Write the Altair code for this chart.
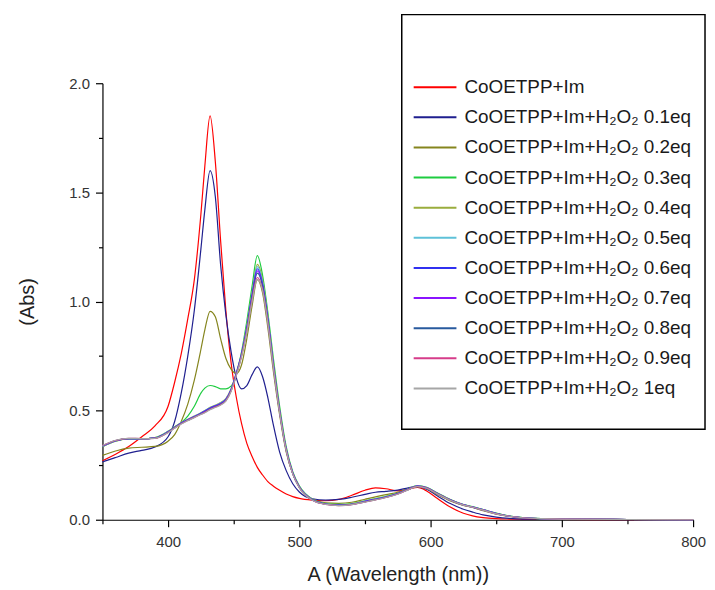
import altair as alt
import pandas as pd

# wavelength grid (nm)
wavelength = [350, 360, 370, 380, 390, 400, 405, 410, 415, 420, 425, 428, 432, 436, 440,
              444, 448, 452, 456, 460, 464, 468, 472, 476, 480, 485, 490, 495, 500, 510,
              520, 530, 540, 550, 558, 566, 575, 583, 590, 597, 605, 615, 625, 632, 640,
              650, 660, 670, 685, 700, 750, 800]

series_names = [
    "CoOETPP+Im",
    "CoOETPP+Im+H₂O₂ 0.1eq",
    "CoOETPP+Im+H₂O₂ 0.2eq",
    "CoOETPP+Im+H₂O₂ 0.3eq",
    "CoOETPP+Im+H₂O₂ 0.4eq",
    "CoOETPP+Im+H₂O₂ 0.5eq",
    "CoOETPP+Im+H₂O₂ 0.6eq",
    "CoOETPP+Im+H₂O₂ 0.7eq",
    "CoOETPP+Im+H₂O₂ 0.8eq",
    "CoOETPP+Im+H₂O₂ 0.9eq",
    "CoOETPP+Im+H₂O₂ 1eq",
]

colors = ["#FF0000", "#1F1F8F", "#85851E", "#1ECC40", "#9AAD3C", "#5EC1D8",
          "#3030F0", "#8A14FF", "#285A9E", "#D63C8A", "#A6A6A6"]

abs_im = [0.27, 0.30, 0.335, 0.38, 0.43, 0.52, 0.63, 0.76, 0.92, 1.10, 1.40, 1.62, 1.85, 1.64, 1.28,
          0.96, 0.72, 0.56, 0.44, 0.35, 0.29, 0.24, 0.205, 0.175, 0.155, 0.135, 0.118, 0.106, 0.098, 0.09,
          0.087, 0.093, 0.112, 0.135, 0.146, 0.142, 0.132, 0.14, 0.148, 0.132, 0.098, 0.058, 0.03, 0.018, 0.01,
          0.005, 0.003, 0.002, 0.001, 0.001, 0.0, 0.0]

abs_01 = [0.265, 0.285, 0.305, 0.318, 0.333, 0.38, 0.45, 0.58, 0.75, 0.96, 1.24, 1.42, 1.60, 1.48, 1.17,
          0.94, 0.77, 0.65, 0.60, 0.615, 0.665, 0.70, 0.655, 0.56, 0.44, 0.31, 0.225, 0.165, 0.127, 0.096,
          0.09, 0.093, 0.103, 0.116, 0.126, 0.13, 0.136, 0.146, 0.152, 0.14, 0.11, 0.074, 0.048, 0.035, 0.022,
          0.012, 0.006, 0.003, 0.002, 0.001, 0.0, 0.0]

abs_02 = [0.295, 0.315, 0.328, 0.332, 0.336, 0.36, 0.39, 0.45, 0.53, 0.64, 0.78, 0.87, 0.955, 0.93, 0.83,
          0.74, 0.69, 0.67, 0.71, 0.83, 0.98, 1.10, 1.04, 0.88, 0.69, 0.48, 0.31, 0.21, 0.15, 0.094,
          0.077, 0.075, 0.08, 0.094, 0.105, 0.115, 0.126, 0.142, 0.153, 0.143, 0.116, 0.086, 0.066, 0.056, 0.041,
          0.026, 0.015, 0.008, 0.004, 0.002, 0.001, 0.0]

abs_03 = [0.335, 0.36, 0.37, 0.37, 0.376, 0.405, 0.425, 0.445, 0.475, 0.52, 0.58, 0.603, 0.615, 0.61, 0.60,
          0.60, 0.612, 0.665, 0.77, 0.91, 1.07, 1.21, 1.12, 0.95, 0.75, 0.52, 0.335, 0.22, 0.155, 0.094,
          0.075, 0.07, 0.074, 0.087, 0.097, 0.107, 0.122, 0.142, 0.156, 0.148, 0.123, 0.093, 0.07, 0.06, 0.047,
          0.03, 0.017, 0.01, 0.005, 0.003, 0.001, 0.0]

abs_04 = [0.335, 0.36, 0.37, 0.37, 0.376, 0.405, 0.425, 0.445, 0.46, 0.475, 0.49, 0.50, 0.515, 0.525, 0.537,
          0.555, 0.60, 0.675, 0.765, 0.89, 1.04, 1.17, 1.10, 0.93, 0.73, 0.505, 0.325, 0.215, 0.152, 0.093,
          0.074, 0.069, 0.073, 0.086, 0.096, 0.106, 0.121, 0.141, 0.155, 0.147, 0.122, 0.092, 0.069, 0.059, 0.046,
          0.029, 0.017, 0.01, 0.005, 0.003, 0.001, 0.0]

abs_05 = [0.337, 0.361, 0.371, 0.37, 0.375, 0.404, 0.424, 0.444, 0.459, 0.474, 0.489, 0.499, 0.513, 0.523, 0.535,
          0.553, 0.598, 0.672, 0.762, 0.885, 1.035, 1.16, 1.09, 0.925, 0.725, 0.50, 0.323, 0.214, 0.151, 0.092,
          0.073, 0.068, 0.072, 0.085, 0.095, 0.105, 0.12, 0.14, 0.155, 0.147, 0.121, 0.091, 0.069, 0.059, 0.046,
          0.029, 0.017, 0.01, 0.005, 0.003, 0.001, 0.0]

abs_06 = [0.338, 0.362, 0.372, 0.371, 0.375, 0.403, 0.423, 0.443, 0.458, 0.473, 0.488, 0.498, 0.512, 0.522, 0.533,
          0.551, 0.596, 0.67, 0.76, 0.88, 1.03, 1.15, 1.08, 0.92, 0.72, 0.498, 0.322, 0.213, 0.15, 0.091,
          0.072, 0.067, 0.071, 0.084, 0.094, 0.104, 0.12, 0.14, 0.154, 0.146, 0.121, 0.091, 0.068, 0.058, 0.045,
          0.028, 0.016, 0.009, 0.005, 0.003, 0.001, 0.0]

abs_07 = [0.338, 0.362, 0.372, 0.371, 0.374, 0.402, 0.422, 0.442, 0.457, 0.472, 0.486, 0.496, 0.51, 0.52, 0.531,
          0.549, 0.594, 0.668, 0.757, 0.875, 1.025, 1.14, 1.075, 0.915, 0.717, 0.496, 0.32, 0.212, 0.149, 0.09,
          0.071, 0.066, 0.07, 0.083, 0.093, 0.104, 0.119, 0.139, 0.154, 0.146, 0.12, 0.09, 0.068, 0.058, 0.045,
          0.028, 0.016, 0.009, 0.005, 0.003, 0.001, 0.0]

abs_08 = [0.339, 0.363, 0.372, 0.371, 0.374, 0.401, 0.421, 0.441, 0.456, 0.47, 0.485, 0.494, 0.508, 0.518, 0.529,
          0.547, 0.592, 0.665, 0.754, 0.87, 1.02, 1.13, 1.07, 0.91, 0.714, 0.494, 0.319, 0.211, 0.148, 0.09,
          0.071, 0.066, 0.07, 0.082, 0.092, 0.103, 0.118, 0.138, 0.153, 0.145, 0.12, 0.09, 0.067, 0.057, 0.044,
          0.028, 0.016, 0.009, 0.005, 0.003, 0.001, 0.0]

abs_09 = [0.34, 0.363, 0.373, 0.372, 0.373, 0.4, 0.42, 0.44, 0.455, 0.469, 0.483, 0.492, 0.506, 0.516, 0.527,
          0.545, 0.59, 0.662, 0.75, 0.865, 1.01, 1.11, 1.055, 0.905, 0.71, 0.492, 0.318, 0.21, 0.147, 0.089,
          0.07, 0.065, 0.069, 0.081, 0.091, 0.102, 0.118, 0.138, 0.153, 0.145, 0.119, 0.089, 0.067, 0.057, 0.044,
          0.027, 0.016, 0.009, 0.005, 0.003, 0.001, 0.0]

abs_10 = [0.34, 0.364, 0.373, 0.372, 0.373, 0.399, 0.419, 0.439, 0.454, 0.468, 0.482, 0.49, 0.504, 0.514, 0.525,
          0.543, 0.588, 0.66, 0.747, 0.86, 1.00, 1.10, 1.05, 0.9, 0.707, 0.49, 0.317, 0.209, 0.146, 0.089,
          0.07, 0.065, 0.069, 0.081, 0.091, 0.102, 0.117, 0.137, 0.152, 0.144, 0.119, 0.089, 0.067, 0.057, 0.044,
          0.027, 0.016, 0.009, 0.005, 0.003, 0.001, 0.0]

series_values = [abs_im, abs_01, abs_02, abs_03, abs_04, abs_05, abs_06, abs_07, abs_08, abs_09, abs_10]

rows = []
for k, (name, vals) in enumerate(zip(series_names, series_values)):
    for w, a in zip(wavelength, vals):
        rows.append({"wl": w, "absorb": a, "series": name, "k": k})
df = pd.DataFrame(rows)

FONT = "Liberation Sans"

x_axis = alt.Axis(
    values=[350, 400, 450, 500, 550, 600, 650, 700, 750, 800],
    labelExpr="datum.value % 100 === 0 ? datum.label : ''",
    format="d",
    grid=False, labelFlush=False,
    domainColor="black", domainWidth=1.2,
    tickColor="black", tickWidth=1.2,
    tickSize={"condition": {"test": "datum.value % 100 === 0", "value": 7}, "value": 4},
    labelFont=FONT, labelFontSize=15, labelColor="#333333", labelPadding=8,
    titleFont=FONT, titleFontSize=20, titleFontWeight="normal", titleColor="#222222",
    titlePadding=15,
)

y_axis = alt.Axis(
    values=[0, 0.25, 0.5, 0.75, 1.0, 1.25, 1.5, 1.75, 2.0],
    labelExpr="round(datum.value * 4) % 2 === 0 ? format(datum.value, '.1f') : ''",
    grid=False, labelFlush=False,
    domainColor="black", domainWidth=1.2,
    tickColor="black", tickWidth=1.2,
    tickSize={"condition": {"test": "round(datum.value * 4) % 2 === 0", "value": 7}, "value": 4},
    labelFont=FONT, labelFontSize=15, labelColor="#333333", labelPadding=6,
    titleFont=FONT, titleFontSize=20, titleFontWeight="normal", titleColor="#222222",
    titlePadding=31,
)

legend = alt.Legend(
    title=None, orient="none", legendX=312, legendY=-6, padding=0,
    symbolType="stroke", symbolSize=1849, symbolStrokeWidth=2,
    clipHeight=20, rowPadding=10.3,
    labelFont=FONT, labelFontSize=19, labelColor="#1a1a1a", labelOffset=7, labelLimit=400,
)

lines = alt.Chart(df).mark_line(strokeWidth=1.2, interpolate="monotone").encode(
    x=alt.X("wl:Q", title="A (Wavelength (nm))",
            scale=alt.Scale(domain=[350, 800], nice=False, zero=False), axis=x_axis),
    y=alt.Y("absorb:Q", title="(Abs)",
            scale=alt.Scale(domain=[0, 2], nice=False), axis=y_axis),
    color=alt.Color("series:N", sort=series_names,
                    scale=alt.Scale(domain=series_names, range=colors), legend=legend),
    order=alt.Order("k:Q"),
)

frame = alt.Chart(pd.DataFrame({"k": [0]})).mark_rect(
    fill="white", stroke="black", strokeWidth=1.5
).encode(
    x=alt.value(301), x2=alt.value(606), y=alt.value(-69), y2=alt.value(348)
)

chart = alt.layer(frame, lines).properties(
    width=594, height=439,
    padding={"left": 95, "top": 74, "right": 14, "bottom": 68},
    autosize=alt.AutoSizeParams(type="none"),
    background="white",
).configure_view(stroke=None)

chart.save("out.html", embed_options={"renderer": "svg", "actions": False})
